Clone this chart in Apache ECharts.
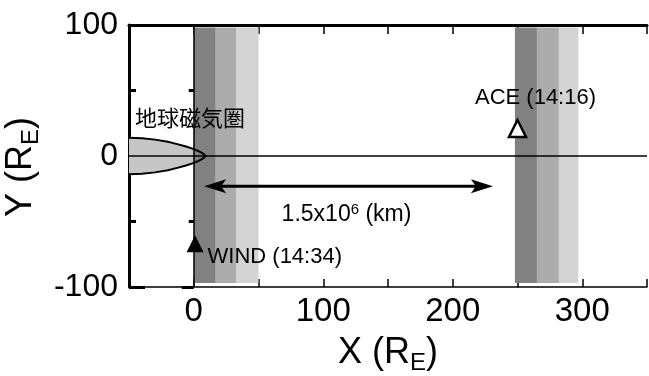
<!DOCTYPE html>
<html>
<head>
<meta charset="utf-8">
<script src="https://cdn.jsdelivr.net/npm/echarts@6/dist/echarts.min.js"></script>
<style>
  html, body { margin: 0; padding: 0; background: #fff; }
  #chart { width: 649px; height: 376px; }
</style>
</head>
<body>
<div id="chart"></div>
<script>
// axis ranges and tick labels
const xRange = [-50, 350];
const yRange = [-100, 100];
const xTickLabels = [0, 100, 200, 300];
const yTickLabels = [-100, 0, 100];

// shaded bands (x edges, R_E) near earth and near ACE
const earthBandEdges = [0, 17, 33, 50];
const aceBandEdges = [248, 265, 282, 297];
const bandYTop = 98;
const bandYBottom = -97;

// magnetosphere outline, upper half from tail to nose (mirrored below)
const magX = [-50, -40, -30, -20, -12, -6, -1, 3, 6, 8, 9];
const magY = [14, 13.5, 12.5, 10.9, 8.9, 7.2, 5.6, 4.0, 2.6, 1.3, 0];

// spacecraft positions
const aceX = 250, aceY = 21;
const windX = 1, windY = -67;

// sun-earth distance arrow
const arrowX = [8, 231];
const arrowY = -23;

const FONT = '"Liberation Sans", Arial, sans-serif';
const bandColors = ['#818181', '#acacac', '#d4d4d4'];

const bandData = [];
[earthBandEdges, aceBandEdges].forEach(edges => {
  for (let i = 0; i < edges.length - 1; i++) {
    bandData.push([edges[i], edges[i + 1], i]);
  }
});

const magOutline = () => {
  const pts = [];
  for (let i = 0; i < magX.length; i++) pts.push([magX[i], magY[i]]);
  for (let i = magX.length - 2; i >= 0; i--) pts.push([magX[i], -magY[i]]);
  return pts;
};

const chart = echarts.init(document.getElementById('chart'), null, { renderer: 'canvas' });

const axisCommon = {
  type: 'value',
  splitLine: { show: false },
  axisLine: { onZero: false, lineStyle: { color: '#000' } }
};

const subRich = { s: { fontSize: 24, fontFamily: FONT, color: '#000', verticalAlign: 'bottom', padding: [20, 0, 0, 0] } };

const option = {
  backgroundColor: '#fff',
  animation: false,
  textStyle: { fontFamily: FONT },
  grid: { left: 129, right: 2, top: 25, bottom: 89, outerBoundsMode: 'none' },
  xAxis: [
    {
      ...axisCommon,
      min: xRange[0], max: xRange[1], interval: 50,
      position: 'bottom',
      axisLine: { onZero: false, lineStyle: { color: '#000', width: 1.5 } },
      axisTick: { inside: true, length: 8, lineStyle: { color: '#000', width: 1.5 } },
      axisLabel: {
        color: '#000', fontSize: 33, fontFamily: FONT, margin: 8,
        formatter: v => xTickLabels.includes(v) ? String(v) : ''
      },
      name: 'X (R{s|E})',
      nameLocation: 'middle',
      nameGap: 44,
      nameTextStyle: { color: '#000', fontSize: 36, fontFamily: FONT, rich: subRich }
    },
    {
      ...axisCommon,
      min: xRange[0], max: xRange[1], interval: 50,
      position: 'top',
      axisLine: { onZero: false, lineStyle: { color: '#000', width: 3 } },
      axisTick: { inside: true, length: 9, lineStyle: { color: '#000', width: 1.5 } },
      axisLabel: { show: false }
    }
  ],
  yAxis: [
    {
      ...axisCommon,
      min: yRange[0], max: yRange[1], interval: 100,
      position: 'left',
      axisLine: { onZero: false, lineStyle: { color: '#000', width: 3 } },
      axisTick: { inside: true, length: 16, lineStyle: { color: '#000', width: 3 } },
      minorTick: { show: true, splitNumber: 2, length: 7, lineStyle: { color: '#000', width: 3 } },
      axisLabel: {
        color: '#000', fontSize: 32, fontFamily: FONT, margin: 11,
        formatter: v => yTickLabels.includes(v) ? String(v) : ''
      },
      name: 'Y (R{s|E})',
      nameLocation: 'middle',
      nameGap: 74,
      nameTextStyle: {
        color: '#000', fontSize: 36, fontFamily: FONT,
        padding: [0, 22, 0, 0],
        rich: subRich
      }
    },
    {
      ...axisCommon,
      min: yRange[0], max: yRange[1], interval: 100,
      position: 'right',
      axisLine: { show: false },
      axisTick: { inside: true, length: 12, lineStyle: { color: '#000', width: 3 } },
      minorTick: { show: true, splitNumber: 2, length: 5, lineStyle: { color: '#000', width: 3 } },
      axisLabel: { show: false }
    }
  ],
  series: [
    {
      // magnetosphere fill (under the bands)
      type: 'custom',
      z: 1,
      silent: true,
      data: [[0, 0]],
      renderItem: (params, api) => ({
        type: 'polygon',
        shape: { points: magOutline().map(p => api.coord(p)) },
        style: { fill: '#c6c6c6' }
      })
    },
    {
      type: 'custom',
      z: 2,
      silent: true,
      data: bandData,
      renderItem: (params, api) => {
        const p0 = api.coord([api.value(0), bandYTop]);
        const p1 = api.coord([api.value(1), bandYBottom]);
        return {
          type: 'rect',
          shape: { x: p0[0], y: p0[1], width: p1[0] - p0[0], height: p1[1] - p0[1] },
          style: { fill: bandColors[api.value(2)] }
        };
      },
      markLine: {
        silent: true,
        symbol: ['none', 'none'],
        label: { show: false },
        lineStyle: { color: '#000', width: 1.5, type: 'solid' },
        data: [{ xAxis: 0 }, { yAxis: 0 }]
      }
    },
    {
      // magnetosphere outline and label
      type: 'custom',
      z: 4,
      silent: true,
      data: [[0, 0]],
      renderItem: (params, api) => {
        const tail = api.coord([magX[0], 0]);
        return {
          type: 'group',
          children: [
            {
              type: 'polyline',
              shape: { points: magOutline().map(p => api.coord(p)) },
              style: { stroke: '#000', lineWidth: 2, fill: null }
            },
            {
              type: 'text',
              style: {
                text: '地球磁気圏', x: tail[0] + 6, y: tail[1] - 38,
                align: 'left', verticalAlign: 'middle',
                font: '22px "Noto Sans CJK JP"', fill: '#000'
              }
            }
          ]
        };
      }
    },
    {
      // distance arrow
      type: 'custom',
      z: 5,
      silent: true,
      data: [[arrowX[0], arrowX[1], arrowY]],
      renderItem: (params, api) => {
        const a = api.coord([api.value(0), api.value(2)]);
        const b = api.coord([api.value(1), api.value(2)]);
        const len = 22, hw = 7, notch = 17;
        return {
          type: 'group',
          children: [
            {
              type: 'line',
              shape: { x1: a[0] + notch, y1: a[1], x2: b[0] - notch, y2: b[1] },
              style: { stroke: '#000', lineWidth: 3 }
            },
            {
              type: 'polygon',
              shape: { points: [a, [a[0] + len, a[1] - hw], [a[0] + notch, a[1]], [a[0] + len, a[1] + hw]] },
              style: { fill: '#000' }
            },
            {
              type: 'polygon',
              shape: { points: [b, [b[0] - len, b[1] - hw], [b[0] - notch, b[1]], [b[0] - len, b[1] + hw]] },
              style: { fill: '#000' }
            },
            {
              type: 'text',
              style: {
                text: '1.5x10{p|6} (km)', x: (a[0] + b[0]) / 2 - 2, y: a[1] + 29,
                align: 'center', verticalAlign: 'middle',
                font: '23px ' + FONT, fill: '#000',
                rich: { p: { fontSize: 15, fontFamily: FONT, fill: '#000', verticalAlign: 'top', padding: [0, 0, 10, 0] } }
              }
            }
          ]
        };
      }
    },
    {
      name: 'ACE',
      type: 'scatter',
      z: 6,
      silent: true,
      symbol: 'triangle',
      symbolSize: 17,
      itemStyle: { color: '#fff', borderColor: '#000', borderWidth: 2.5, opacity: 1 },
      label: {
        show: true, position: 'top', distance: 10, offset: [18, 0],
        formatter: 'ACE (14:16)', color: '#000', fontSize: 22, fontFamily: FONT
      },
      data: [[aceX, aceY]]
    },
    {
      name: 'WIND',
      type: 'scatter',
      z: 6,
      silent: true,
      symbol: 'triangle',
      symbolSize: 17,
      itemStyle: { color: '#000', opacity: 1 },
      label: {
        show: true, position: 'right', distance: 4, offset: [0, 13],
        formatter: 'WIND (14:34)', color: '#000', fontSize: 22, fontFamily: FONT
      },
      data: [[windX, windY]]
    }
  ]
};

chart.setOption(option);
</script>
</body>
</html>
